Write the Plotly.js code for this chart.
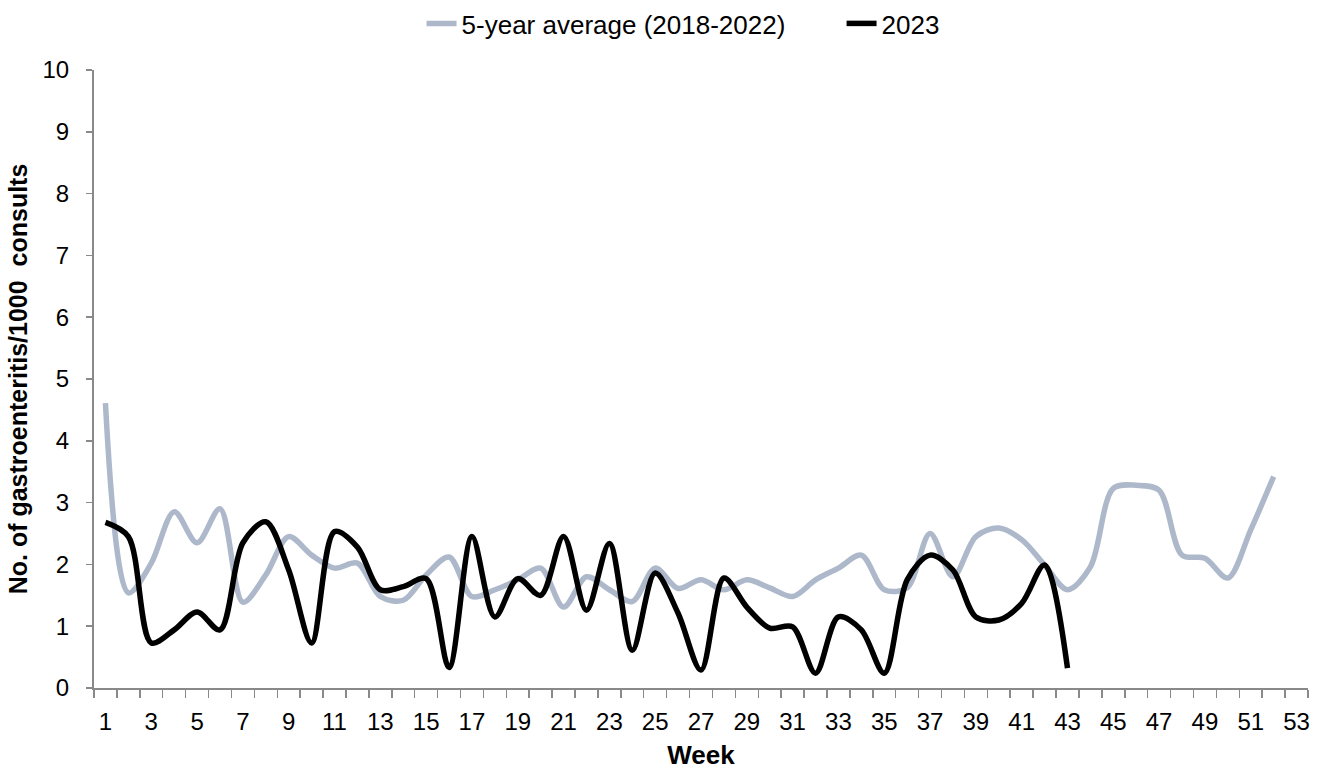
<!DOCTYPE html>
<html>
<head>
<meta charset="utf-8">
<script src="https://cdn.plot.ly/plotly-3.0.1.min.js"></script>
<style>html,body{margin:0;padding:0;background:#fff;}#chart{width:1324px;height:771px;}</style>
</head>
<body>
<div id="chart"></div>
<script>
var weeksAvg = [];
for (var i = 1; i <= 52; i++) weeksAvg.push(i);
var weeks2023 = weeksAvg.slice(0, 43);

var avgValues = [4.61,1.54,2.02,2.85,2.35,2.9,1.39,1.83,2.45,2.15,
  1.94,2.02,1.48,1.42,1.83,2.12,1.48,1.59,1.75,1.94,
  1.31,1.8,1.59,1.4,1.94,1.61,1.75,1.59,1.75,1.62,
  1.48,1.75,1.94,2.15,1.59,1.62,2.5,1.8,2.45,2.59,
  2.4,1.99,1.59,1.96,3.23,3.28,3.2,2.15,2.1,1.78,2.56,3.42];

var values2023 = [2.68,2.45,0.73,0.94,1.23,0.94,2.35,2.69,1.91,0.73,
  2.53,2.28,1.59,1.64,1.77,0.33,2.45,1.15,1.77,1.5,
  2.45,1.26,2.34,0.61,1.86,1.21,0.29,1.78,1.31,0.97,
  0.99,0.24,1.15,0.94,0.24,1.75,2.15,1.91,1.15,1.1,
  1.37,1.99,0.32];

var tickWeeks = [];
for (var t = 1; t <= 53; t += 2) tickWeeks.push(t);
var tickLabels = tickWeeks.map(String);

var seriesNames = ['5-year average (2018-2022)', '2023'];
var axisTitles = {x: 'Week', y: 'No. of gastroenteritis/1000  consults'};

var font = 'Liberation Sans, Arial, sans-serif';
var axisColor = '#898989';

var traces = [
  {x: weeksAvg, y: avgValues, name: seriesNames[0], type: 'scatter', mode: 'lines',
   line: {color: '#adb9ca', width: 5.5, shape: 'spline', smoothing: 0.9}},
  {x: weeks2023, y: values2023, name: seriesNames[1], type: 'scatter', mode: 'lines',
   line: {color: '#000000', width: 5.5, shape: 'spline', smoothing: 0.9}}
];

var layout = {
  width: 1324, height: 771,
  margin: {l: 94, r: 16, t: 70, b: 83},
  paper_bgcolor: '#fff', plot_bgcolor: '#fff',
  font: {family: font, color: '#000', size: 25},
  showlegend: true,
  legend: {orientation: 'h', xref: 'container', yref: 'container', x: 0.3184, xanchor: 'left',
           y: 1.0, yanchor: 'top', font: {size: 26, family: font}, traceorder: 'normal',
           entrywidth: 375, entrywidthmode: 'pixels'},
  xaxis: {
    range: [0.5, 53.5], tickmode: 'array', tickvals: tickWeeks, ticktext: tickLabels,
    ticks: '', showline: true, linecolor: axisColor, linewidth: 2, showgrid: false, zeroline: false,
    tickfont: {size: 24, family: font}, ticklabelstandoff: 11,
    minor: {ticks: 'outside', tickmode: 'linear', tick0: 0.5, dtick: 1, ticklen: 8, tickcolor: axisColor, tickwidth: 1.5, showgrid: false},
    title: {text: '<b>' + axisTitles.x + '</b>', font: {size: 26, family: font}, standoff: 12}
  },
  yaxis: {
    range: [0, 10], dtick: 1, ticks: 'outside', ticklen: 6, tickcolor: axisColor, tickwidth: 1.5,
    showline: true, linecolor: axisColor, linewidth: 2, showgrid: false, zeroline: false,
    tickfont: {size: 24, family: font}, ticklabelstandoff: 12,
    title: {text: '<b>' + axisTitles.y + '</b>', font: {size: 25, family: font}, standoff: 8}
  }
};

Plotly.newPlot('chart', traces, layout, {displayModeBar: false, staticPlot: true});
</script>
</body>
</html>
